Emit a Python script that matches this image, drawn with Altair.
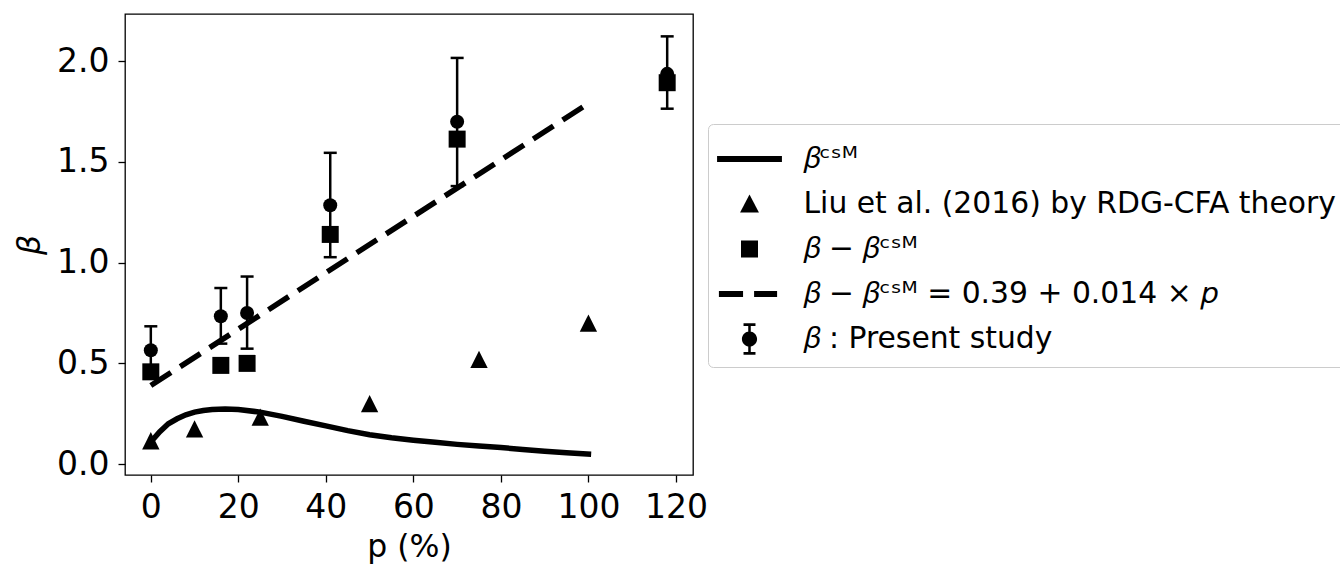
import altair as alt
import pandas as pd

# ---- data ----
# beta : present study (circles with error bars)
p_study = [0, 16, 22, 41, 70, 118]
beta_study = [0.565, 0.734, 0.750, 1.285, 1.699, 1.937]
beta_hi = [0.684, 0.874, 0.931, 1.545, 2.016, 2.123]
beta_lo = [0.450, 0.598, 0.573, 1.027, 1.380, 1.764]
# beta - beta_CSM (squares)
beta_diff = [0.458, 0.490, 0.500, 1.140, 1.613, 1.893]
# Liu et al. (2016) by RDG-CFA theory (triangles)
p_liu = [0, 10, 25, 50, 75, 100]
beta_liu = [0.116, 0.175, 0.233, 0.300, 0.520, 0.700]
# beta_CSM curve
p_csm = [0, 2, 4, 6, 8, 10, 12, 14, 17, 20, 25, 30, 35, 40, 45, 50, 55, 60, 65, 70, 75, 80, 85, 90, 95, 100]
beta_csm = [0.110, 0.160, 0.200, 0.225, 0.245, 0.258, 0.266, 0.271, 0.273, 0.271, 0.258, 0.237, 0.213,
            0.190, 0.166, 0.146, 0.131, 0.119, 0.108, 0.098, 0.090, 0.082, 0.073, 0.064, 0.056, 0.050]
# fitted line 0.39 + 0.014 p
p_fit = [0, 100]
beta_fit = [0.39, 1.79]

# legend
legend_labels = [
    "𝛽ᶜˢᴹ",
    "Liu et al. (2016) by RDG-CFA theory",
    "𝛽 − 𝛽ᶜˢᴹ",
    "𝛽 − 𝛽ᶜˢᴹ = 0.39 + 0.014 × 𝑝",
    "𝛽 : Present study",
]
legend_shapes = [
    "M-1.41,-0.13H1.41V0.13H-1.41Z",
    "M0,-0.41L0.41,0.37H-0.41Z",
    "M-0.37,-0.37H0.37V0.37H-0.37Z",
    "M-1.33,-0.13H-0.28V0.13H-1.33Z M0.2,-0.13H1.2V0.13H0.2Z",
    "M-0.26,-0.68H0.26V-0.57H-0.26Z M-0.26,0.57H0.26V0.68H-0.26Z "
    "M-0.055,-0.63H0.055V0.63H-0.055Z M0.33,0A0.33,0.33 0 1,1 -0.33,0A0.33,0.33 0 1,1 0.33,0Z",
]

FONT = "DejaVu Sans"

study = pd.DataFrame({"p": p_study, "b": beta_study, "hi": beta_hi, "lo": beta_lo, "d": beta_diff})
liu = pd.DataFrame({"p": p_liu, "b": beta_liu})
csm = pd.DataFrame({"p": p_csm, "b": beta_csm})
fit = pd.DataFrame({"p": p_fit, "b": beta_fit})
leg = pd.DataFrame({"series": legend_labels, "p": [-60] * 5, "b": [-5.0] * 5})

xscale = alt.Scale(domain=[-5.9, 123.9], nice=False, zero=False)
yscale = alt.Scale(domain=[-0.054, 2.234], nice=False, zero=False)
xaxis = alt.Axis(values=[0, 20, 40, 60, 80, 100, 120], title="p (%)", format="d")
yaxis = alt.Axis(values=[0, 0.5, 1.0, 1.5, 2.0], title="β", format=".1f", titleFontStyle="italic")


def X(field="p"):
    return alt.X(f"{field}:Q", scale=xscale, axis=xaxis)


def Y(field="b"):
    return alt.Y(f"{field}:Q", scale=yscale, axis=yaxis)


curve = alt.Chart(csm).mark_line(color="black", strokeWidth=5.5, strokeCap="square").encode(
    x=X(), y=Y(), order="p:Q")

tri = alt.Chart(liu).mark_point(shape="M0,-1L1,1H-1Z", size=300, filled=True, color="black",
                                opacity=1, strokeWidth=0).encode(x=X(), y=Y())

sq = alt.Chart(study).mark_point(shape="square", size=289, filled=True, color="black",
                                 opacity=1, strokeWidth=0).encode(x=X(), y=Y("d"))

dashed = alt.Chart(fit).mark_line(color="black", strokeWidth=5.5, strokeDash=[24, 11],
                                  strokeCap="butt").encode(x=X(), y=Y())

bars = alt.Chart(study).mark_rule(color="black", strokeWidth=2.5).encode(
    x=X(), y=Y("lo"), y2="hi:Q")
cap_hi = alt.Chart(study).mark_point(shape="M-1,0H1", size=169, filled=False, color="black",
                                     opacity=1, strokeWidth=2.5).encode(x=X(), y=Y("hi"))
cap_lo = alt.Chart(study).mark_point(shape="M-1,0H1", size=169, filled=False, color="black",
                                     opacity=1, strokeWidth=2.5).encode(x=X(), y=Y("lo"))
dots = alt.Chart(study).mark_point(shape="circle", size=196, filled=True, color="black",
                                   opacity=1, strokeWidth=0).encode(x=X(), y=Y())

legend_layer = alt.Chart(leg).mark_point(filled=True, clip=True, size=2116, opacity=1,
                                         strokeWidth=0).encode(
    x=X(), y=Y(),
    color=alt.value("black"),
    shape=alt.Shape("series:N", scale=alt.Scale(domain=legend_labels, range=legend_shapes),
                    legend=alt.Legend(
                        title=None, orient="none", legendX=583, legendY=110,
                        padding=12, strokeColor="#cccccc", fillColor="white", cornerRadius=5,
                        symbolSize=2116, symbolStrokeWidth=0, symbolFillColor="black",
                        symbolOpacity=1, symbolOffset=6.5, labelOffset=31, rowPadding=7,
                        labelFont=FONT, labelFontSize=29.8, labelColor="black", labelLimit=1000)),
)

chart = alt.layer(curve, tri, sq, dashed, bars, cap_hi, cap_lo, dots, legend_layer).properties(
    width=568, height=461,
    autosize=alt.AutoSizeParams(type="none"),
    padding={"left": 125, "top": 14, "right": 647, "bottom": 89},
    background="white",
).configure_view(
    stroke="black", strokeWidth=1.3
).configure_axis(
    domain=False, grid=False, ticks=True, tickColor="black", tickWidth=1.3, tickSize=7,
    labelFont=FONT, labelFontSize=33, labelColor="black", labelPadding=9,
    titleFont=FONT, titleFontSize=31.5, titleColor="black", titleFontWeight="normal",
).configure_axisX(titlePadding=7).configure_axisY(titlePadding=10)

chart.save("out.html", embed_options={"renderer": "svg", "actions": False})
